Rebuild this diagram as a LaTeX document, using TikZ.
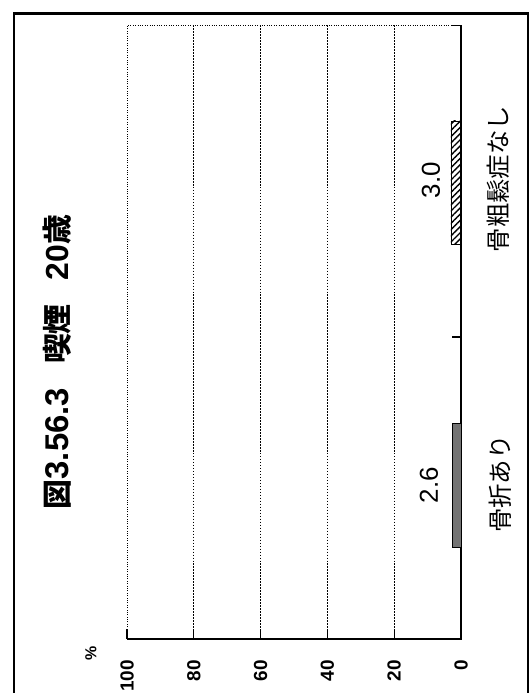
\documentclass[tikz,border=0pt]{standalone}
\usepackage{fontspec}
\setmainfont{Liberation Sans}
\newfontfamily\jp{Noto Sans CJK JP}
\usetikzlibrary{patterns.meta}

\begin{document}
\begin{tikzpicture}[x=1bp, y=-1bp,
    grid/.style={line width=0.9pt, dash pattern=on 1.6pt off 1.4pt},
    fine/.style={line width=0.5pt, dash pattern=on 0.8pt off 1.6pt},
    ticklabel/.style={font=\bfseries\fontsize{19}{19}\selectfont, rotate=90, anchor=east, inner sep=0pt},
    value/.style={font=\fontsize{26}{26}\selectfont, rotate=90},
    category/.style={font=\jp\fontsize{24.5}{24.5}\selectfont, rotate=90}]
  \useasboundingbox (0,0) rectangle (532,693);

  % outer frame
  \draw[line width=2.2pt] (14,700) -- (14,13.5) -- (528,13.5) -- (528,700);

  % grid
  \draw[fine] (127,639) -- (127,25.5) -- (461,25.5);
  \foreach \v in {20,40,60,80}
    \draw[grid] ({461-3.34*\v},25.5) -- ({461-3.34*\v},639);

  % axes and ticks
  \draw[line width=1.1pt] (127,639) -- (461,639) -- (461,25.5) -- (452,25.5);
  \draw[line width=1.1pt] (452,337) -- (461,337);
  \foreach \v in {0,20,...,100} {
    \draw[line width=1.1pt] ({461-3.34*\v},629) -- ({461-3.34*\v},639);
    \node[ticklabel] (t\v) at ({461-3.34*\v},660) {\v};
  }
  \node[rotate=90, font=\bfseries\fontsize{16}{16}\selectfont] (unit) at (91,653) {\%};

  % bars
  \draw[line width=0.7pt, pattern={Lines[angle=45, distance=4.4pt, line width=1.4pt]}]
    ({461-3.34*3.0},121) rectangle (461,244);
  \draw[line width=0.7pt, fill=black!55] ({461-3.34*2.6},423) rectangle (461,547);

  % labels
  \node[value] (v1) at (431,180) {3.0};
  \node[value] (v2) at (429,485) {2.6};
  \node[category] (c1) at (498,179) {骨粗鬆症なし};
  \node[category] (c2) at (500,484) {骨折あり};
  \node[rotate=90, font=\jp\bfseries\fontsize{30}{30}\selectfont] (title) at (57,362)
    {図{\rmfamily\bfseries\fontsize{33}{33}\selectfont 3.56.3}\hspace{24bp}喫煙\hspace{24bp}{\rmfamily\bfseries\fontsize{32}{32}\selectfont 20}歳};
\end{tikzpicture}
\end{document}
